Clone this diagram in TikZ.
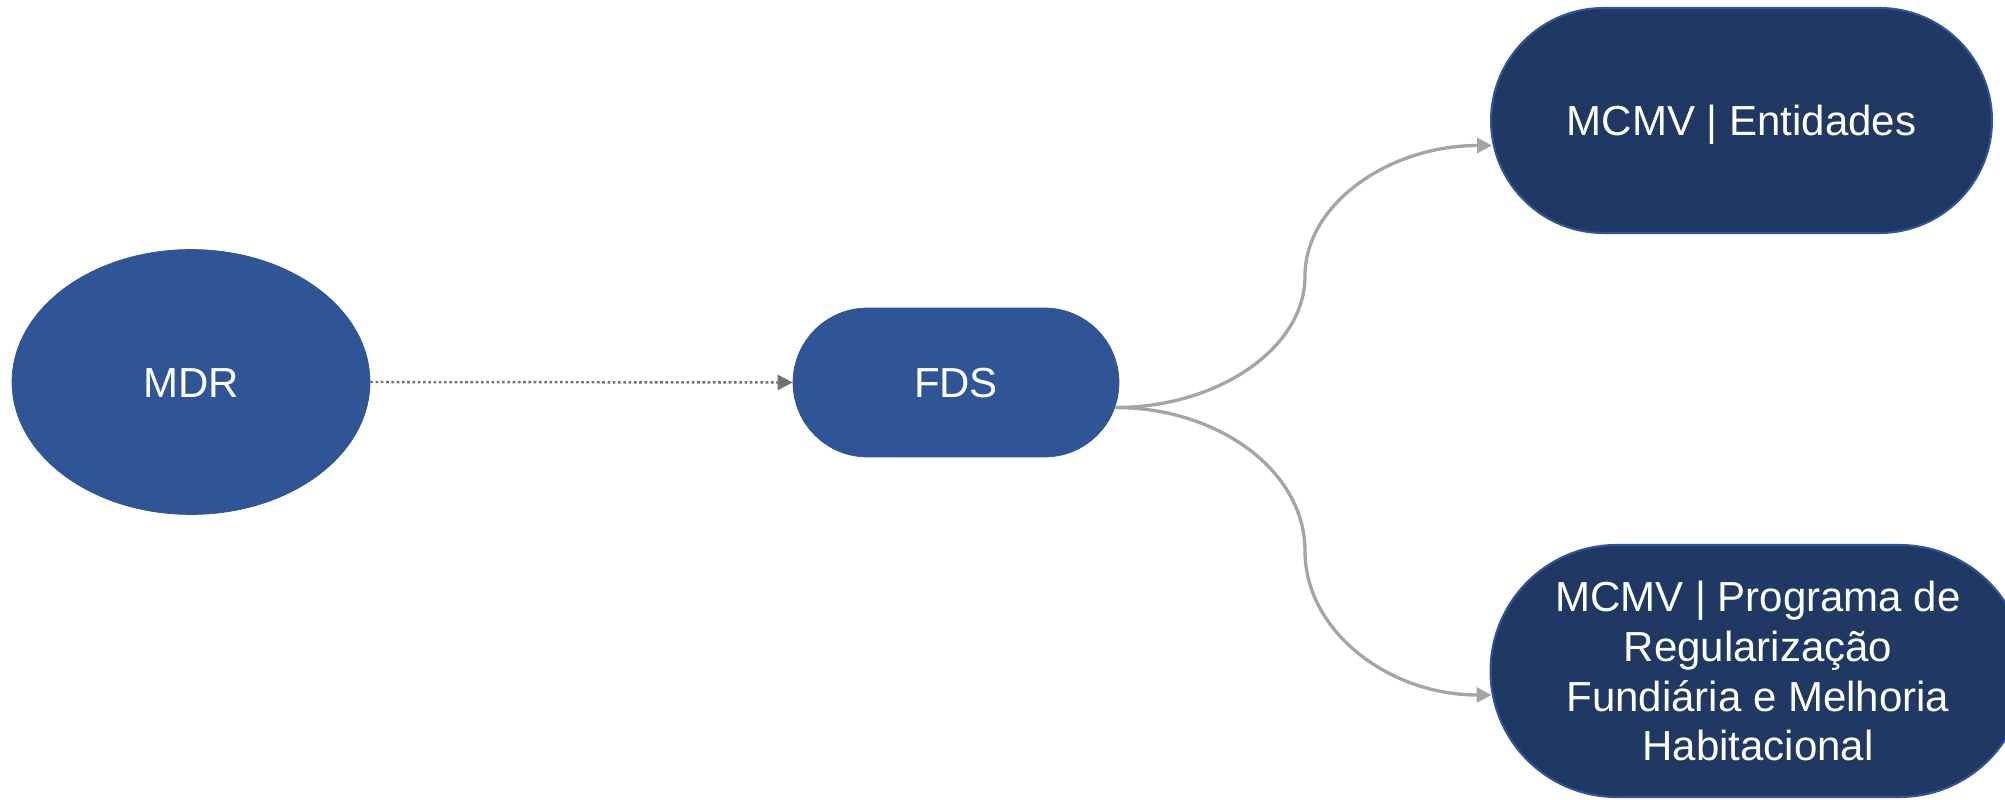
\documentclass[tikz,border=0pt]{standalone}
\usepackage{fontspec}
\setmainfont{Liberation Sans}
\usetikzlibrary{calc}
\usetikzlibrary{arrows.meta}
\usetikzlibrary{shapes.misc}
\usetikzlibrary{shapes.geometric}
\definecolor{midblue}{HTML}{2F5597}
\definecolor{navy}{HTML}{203864}
\definecolor{linkgray}{HTML}{A5A5A5}
\definecolor{dotgray}{HTML}{767171}

\begin{document}
\begin{tikzpicture} [x=0.02cm, y=-0.02cm,
  every node/.style={text=white, font=\fontsize{23.9pt}{1cm}\selectfont, inner sep=0pt, align=center},
  oneline/.style={text height=17.1pt, text depth=0pt},
  lightnode/.style={oneline, fill=midblue, draw=midblue},
  darknode/.style={rounded rectangle, fill=navy, draw=midblue, line width=1.2pt},
  curvelink/.style={linkgray, line width=1.9pt, -{Triangle[length=0.3cm, width=0.3cm]}}]
\useasboundingbox (0,0) rectangle (2005,800);

\node[lightnode, ellipse, minimum width=7.16cm, minimum height=5.3cm] (mdr) at (191,382) {MDR};
\node[lightnode, rounded rectangle, minimum width=6.52cm, minimum height=2.98cm] (fds) at (956,382.5) {FDS};
\node[darknode, oneline, minimum width=10.02cm, minimum height=4.5cm] (ent) at (1741.5,120.5) {MCMV | Entidades};
\node[darknode, minimum width=10.7cm, minimum height=5.04cm] (hab) at (1758,671) {MCMV | Programa de\\Regularização\\Fundiária e Melhoria\\Habitacional};

\draw[dotgray, line width=1.4pt, dash pattern=on 1.5pt off 1.5pt, -{Triangle[length=0.3cm, width=0.3cm]}] (mdr.east) -- (fds.west);

\coordinate (fdsout) at ($(fds.east)+(-4,25)$);
\coordinate (upmid) at (1305,276);
\coordinate (lowmid) at (1305,551);
\coordinate (entin) at ($(ent.west)+(2,25)$);
\coordinate (habin) at ($(hab.west)+(2,24)$);

\draw[curvelink] (fdsout) .. controls +(103,0) and +(0,72) .. (upmid) .. controls +(0,-72) and +(-103,0) .. (entin);
\draw[curvelink] (fdsout) .. controls +(103,0) and +(0,-80) .. (lowmid) .. controls +(0,80) and +(-103,0) .. (habin);

\end{tikzpicture}
\end{document}
